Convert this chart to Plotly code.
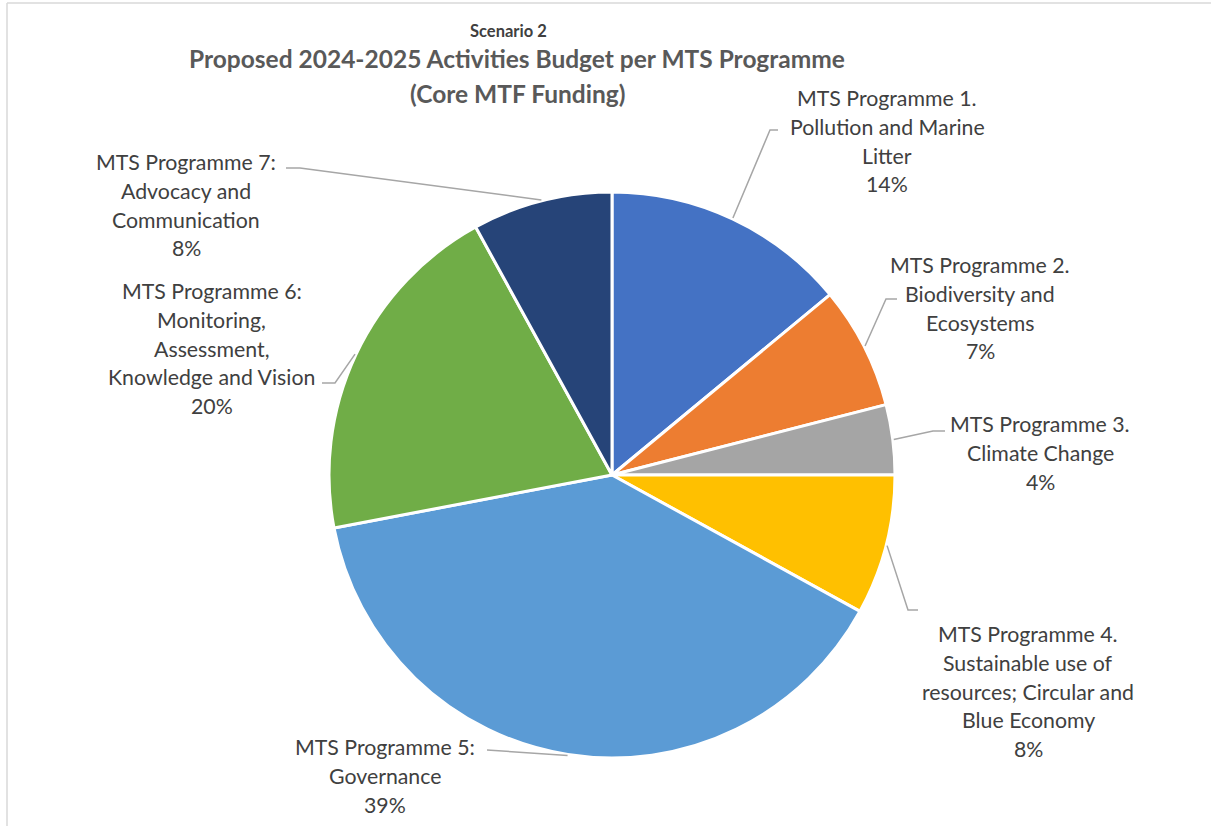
import numpy as np
import plotly.graph_objects as go

W, H = 1211, 826

programmes = [
    ["MTS Programme 1.", "Pollution and Marine", "Litter"],
    ["MTS Programme 2.", "Biodiversity and", "Ecosystems"],
    ["MTS Programme 3.", "Climate Change"],
    ["MTS Programme 4.", "Sustainable use of", "resources; Circular and", "Blue Economy"],
    ["MTS Programme 5:", "Governance"],
    ["MTS Programme 6:", "Monitoring,", "Assessment,", "Knowledge and Vision"],
    ["MTS Programme 7:", "Advocacy and", "Communication"],
]
shares = [14, 7, 4, 8, 39, 20, 8]
colors = ["#4472C4", "#ED7D31", "#A5A5A5", "#FFC000", "#5B9BD5", "#70AD47", "#264478"]

# label placement (pixels): centre x, first line y, elbow point, end of leader
label_pos = [
    (887, 98, (770, 130), (778, 130)),
    (980, 265, (886, 299), (897, 299)),
    (1040, 424, (933, 431), (945, 431)),
    (1028, 634, (908, 610), (918, 610)),
    (385, 747, (487, 750), (487, 750)),
    (212, 291, (335, 383), (322, 383)),
    (186, 162, (300, 168), (286, 168)),
]

CX, CY, R = 612, 475, 283
LINE_H = 28.8
FONT = "Lato"


def px(x):
    return x / W


def py(y):
    return 1 - y / H


fig = go.Figure(go.Pie(
    values=shares,
    labels=[" ".join(p) for p in programmes],
    sort=False,
    direction="clockwise",
    rotation=0,
    textinfo="none",
    hoverinfo="label+percent",
    marker=dict(colors=colors, line=dict(color="white", width=3)),
    domain=dict(x=[px(CX - R), px(CX + R)], y=[py(CY + R), py(CY - R)]),
    showlegend=False,
))

annotations = []
shapes = []
total = sum(shares)
cum = 0
for lines, v, (lx, ly, elbow, end) in zip(programmes, shares, label_pos):
    mid = (cum + v / 2) / total * 2 * np.pi
    cum += v
    ex = CX + (R + 1) * np.sin(mid)
    ey = CY - (R + 1) * np.cos(mid)
    pct = f"{round(v / total * 100)}%"
    for i, t in enumerate(lines + [pct]):
        annotations.append(dict(
            x=px(lx), y=py(ly + i * LINE_H), xref="paper", yref="paper",
            text=t, showarrow=False, xanchor="center", yanchor="middle",
            font=dict(family=FONT, size=21.3, color="#404040"),
        ))
    path = f"M {px(ex)},{py(ey)} L {px(elbow[0])},{py(elbow[1])} L {px(end[0])},{py(end[1])}"
    shapes.append(dict(type="path", xref="paper", yref="paper", path=path,
                       line=dict(color="#A6A6A6", width=1.5)))

annotations.append(dict(
    x=px(508), y=py(31), xref="paper", yref="paper", text="<b>Scenario 2</b>",
    showarrow=False, xanchor="center", yanchor="middle",
    font=dict(family=FONT, size=16.5, color="#404040"),
))
for i, t in enumerate(["Proposed 2024-2025 Activities Budget per MTS Programme", "(Core MTF Funding)"]):
    annotations.append(dict(
        x=px(517), y=py(59 + i * 35), xref="paper", yref="paper", text=f"<b>{t}</b>",
        showarrow=False, xanchor="center", yanchor="middle",
        font=dict(family=FONT, size=24.5, color="#595959"),
    ))

# chart area border (top and left visible)
shapes.append(dict(type="line", xref="paper", yref="paper", x0=px(7), x1=1, y0=py(3), y1=py(3),
                   line=dict(color="#D9D9D9", width=1.5)))
shapes.append(dict(type="line", xref="paper", yref="paper", x0=px(7), x1=px(7), y0=py(3), y1=0,
                   line=dict(color="#D9D9D9", width=1.5)))

fig.update_layout(
    width=W, height=H,
    margin=dict(l=0, r=0, t=0, b=0),
    paper_bgcolor="white",
    plot_bgcolor="white",
    annotations=annotations,
    shapes=shapes,
)

fig.write_html("out.html", config={"displayModeBar": False},
               post_script="document.body.style.margin = '0';")
